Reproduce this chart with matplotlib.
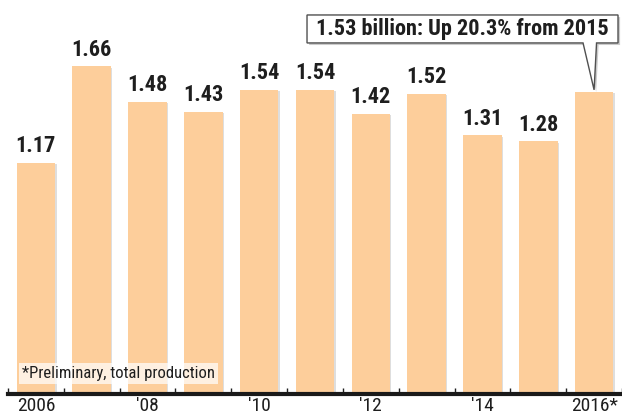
import matplotlib.pyplot as plt
from matplotlib.patches import Polygon
import matplotlib.patheffects as pe

years = [2006, 2007, 2008, 2009, 2010, 2011, 2012, 2013, 2014, 2015, 2016]
values = [1.17, 1.66, 1.48, 1.43, 1.54, 1.54, 1.42, 1.52, 1.31, 1.28, 1.53]
tick_pos = [0, 2, 4, 6, 8, 10]
tick_labels = ["2006", "'08", "'10", "'12", "'14", "2016*"]
callout = "1.53 billion: Up 20.3% from 2015"
footnote = "*Preliminary, total production"

cond = ["Roboto Condensed", "DejaVu Sans"]
bar_color = "#FDCE9B"
ink = "#1e1e1e"

fig = plt.figure(figsize=(6.22, 4.19), dpi=100)
ax = fig.add_axes([8 / 622, 25 / 419, 614 / 622, 394 / 419])

x = list(range(len(years)))
shadow = [pe.SimplePatchShadow(offset=(1, -1), shadow_rgbFace="#c8c8c8", alpha=0.6), pe.Normal()]
bars = ax.bar(x, values, width=0.69, color=bar_color, edgecolor="none", zorder=2)
for b in bars:
    b.set_path_effects(shadow)

# value labels (the last bar gets the callout instead)
for xi, v in zip(x[:-1], values[:-1]):
    ax.annotate(f"{v:.2f}", (xi, v), xytext=(0, 4), textcoords="offset points",
                ha="center", va="bottom", fontsize=16, fontweight="bold",
                family=cond, color=ink)

ax.set_xlim(-0.5, 10.43)
ax.set_ylim(0, 1.995)
ax.set_yticks([])
ax.set_xticks(tick_pos)
ax.set_xticklabels(tick_labels, fontsize=14, family=cond, color=ink)
ax.set_xticks([i + 0.5 for i in range(-1, 11)], minor=True)
ax.tick_params(axis="x", which="major", length=0, pad=2)
ax.tick_params(axis="x", which="minor", length=4, width=1, direction="in", color=ink)
for s in ["top", "right", "left"]:
    ax.spines[s].set_visible(False)
ax.spines["bottom"].set_linewidth(3)
ax.spines["bottom"].set_color("#1a1a1a")

# callout box with a pointer to the last bar (axes-fraction coords)
tip = ax.transAxes.inverted().transform(ax.transData.transform((x[-1], values[-1])))
bx0, bx1, by0, by1 = 0.487, 0.9935, 0.891, 0.962
t0, t1 = tip[0] - 0.018, tip[0] + 0.004
shape = [(bx0, by1), (bx1, by1), (bx1, by0), (t1, by0), (tip[0], tip[1] + 0.005),
         (t0, by0), (bx0, by0)]
ax.add_patch(Polygon(shape, closed=True, transform=ax.transAxes, fc="white",
                     ec="#505050", lw=1, zorder=6,
                     path_effects=[pe.SimplePatchShadow(offset=(1.5, -1.5), shadow_rgbFace="#999999", alpha=0.5),
                                   pe.Normal()]))
ax.text((bx0 + bx1) / 2, (by0 + by1) / 2, callout, transform=ax.transAxes,
        ha="center", va="center", fontsize=16, fontweight="bold",
        family=cond, color=ink, zorder=7)

# footnote
ax.text(0.023, 0.052, footnote, transform=ax.transAxes, fontsize=12, family=cond,
        color=ink, ha="left", va="center", zorder=5,
        bbox=dict(boxstyle="square,pad=0.2", fc="white", ec="none", alpha=0.7))

fig.savefig("out.png", dpi=100)
